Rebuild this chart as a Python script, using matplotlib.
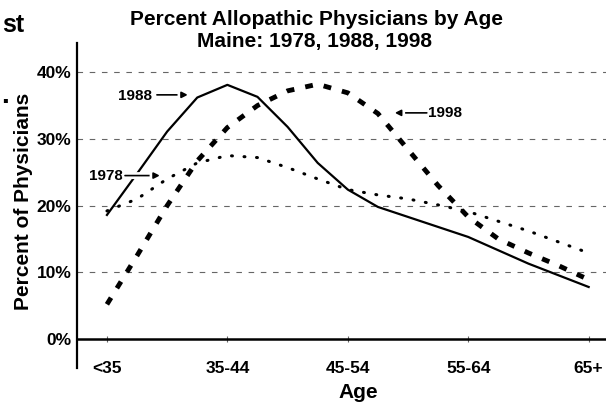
import matplotlib
matplotlib.use('Agg')
import matplotlib.pyplot as plt
import matplotlib.patheffects as pe

plt.rcParams['font.family'] = ['Liberation Sans', 'DejaVu Sans']
plt.rcParams['font.weight'] = 'bold'

# categorie di eta'
age_labels = ['<35', '35-44', '45-54', '55-64', '65+']

# valori (percentuale), posizioni in unita' di categoria
pos_1988 = [0, 0.25, 0.5, 0.75, 1.0, 1.25, 1.5, 1.75, 2.0, 2.25, 2.5, 2.75, 3.0, 3.5, 4.0]
pct_1988 = [18.6, 24.8, 31.1, 36.2, 38.1, 36.3, 31.8, 26.4, 22.4, 19.8, 18.3, 16.8, 15.3, 11.3, 7.8]

pos_1978 = [0, 0.25, 0.5, 0.75, 1.0, 1.25, 1.5, 1.75, 2.0, 2.25, 2.5, 2.75, 3.0, 3.5, 4.0]
pct_1978 = [19.2, 21.0, 24.0, 26.4, 27.5, 27.2, 25.7, 24.0, 22.4, 21.6, 21.0, 20.1, 19.1, 16.2, 12.9]

pos_1998 = [0, 0.25, 0.5, 0.75, 1.0, 1.25, 1.5, 1.75, 2.0, 2.25, 2.5, 2.75, 3.0, 3.25, 3.5, 3.75, 4.0]
pct_1998 = [5.2, 12.5, 20.0, 26.7, 31.7, 35.0, 37.2, 38.2, 36.9, 33.8, 28.4, 23.0, 18.3, 15.0, 12.9, 11.0, 8.9]

y_ticks = [0, 10, 20, 30, 40]
y_tick_labels = ['0%', '10%', '20%', '30%', '40%']

fig = plt.figure(figsize=(6.06, 4.04), dpi=100)
ax = fig.add_axes([0.127, 0.089, 0.904, 0.805])

# griglia tratteggiata
for v in y_ticks[1:]:
    ax.axhline(v, color='#666666', linewidth=0.8, dashes=(5, 6), zorder=1)

ax.plot(pos_1988, pct_1988, color='black', linewidth=1.6, zorder=3)
ax.plot(pos_1978, pct_1978, color='black', linewidth=2.2, dashes=(0.3, 3.8),
        dash_capstyle='round', zorder=3)
ax.plot(pos_1998, pct_1998, color='black', linewidth=3.5, dashes=(1.6, 2.3), zorder=3)

ax.set_xlim(-0.249, 4.30)
ax.set_ylim(-4.35, 44.4)

ax.spines['top'].set_visible(False)
ax.spines['right'].set_visible(False)
ax.spines['bottom'].set_position(('data', 0))
ax.spines['left'].set_linewidth(1.6)
ax.spines['bottom'].set_linewidth(1.8)

ax.set_xticks(range(len(age_labels)))
ax.set_xticklabels(age_labels, fontsize=12.5, fontweight='bold')
ax.tick_params(axis='x', direction='inout', length=5, width=0.8, color='#666666', pad=13)

ax.set_yticks(y_ticks)
ax.set_yticklabels(y_tick_labels, fontsize=12.5, fontweight='bold')
ax.tick_params(axis='y', length=0, pad=4)

# etichette delle serie con frecce
arrow = dict(arrowstyle='-|>', color='black', lw=1.2, mutation_scale=9, shrinkA=0, shrinkB=0,
             path_effects=[pe.withStroke(linewidth=5, foreground='white')])
ax.annotate('', xy=(0.672, 36.6), xytext=(0.415, 36.6), arrowprops=arrow, zorder=4)
ax.text(0.373, 36.5, '1988', ha='right', va='center', fontsize=11, fontweight='bold')
ax.annotate('', xy=(0.44, 24.5), xytext=(0.15, 24.5), arrowprops=arrow, zorder=4)
ax.text(0.133, 24.4, '1978', ha='right', va='center', fontsize=11, fontweight='bold')
ax.annotate('', xy=(2.39, 33.9), xytext=(2.656, 33.9), arrowprops=arrow, zorder=4)
ax.text(2.664, 33.9, '1998', ha='left', va='center', fontsize=11, fontweight='bold')

# titoli
fig.text(317 / 606, 1 - 25 / 404, 'Percent Allopathic Physicians by Age', ha='center', va='baseline',
         fontsize=15, fontweight='bold')
fig.text(314 / 606, 1 - 47 / 404, 'Maine: 1978, 1988, 1998', ha='center', va='baseline',
         fontsize=15, fontweight='bold')
fig.text(358 / 606, 1 - 393 / 404, 'Age', ha='center', va='center', fontsize=15, fontweight='bold')
fig.text(24 / 606, 1 - 201 / 404, 'Percent of Physicians', ha='center', va='center', rotation=90,
         fontsize=15, fontweight='bold')

# frammenti del titolo della slide
fig.text(0.003, 1 - 32 / 404, 'st', ha='left', va='baseline', fontsize=18, fontweight='bold')
fig.text(0.002, 1 - 103 / 404, '.', ha='left', va='baseline', fontsize=20, fontweight='bold')

plt.savefig('out.png', dpi=100)
